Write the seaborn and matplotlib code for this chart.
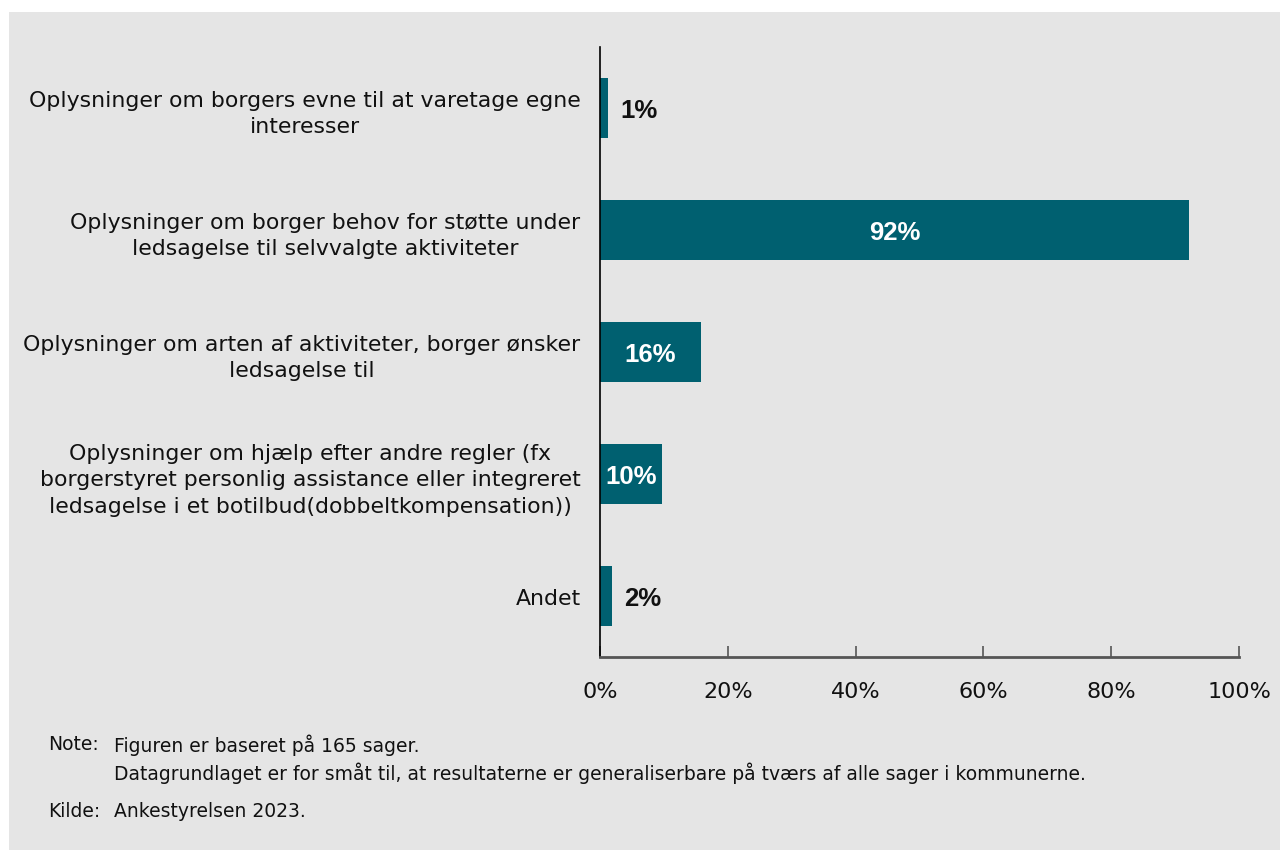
import matplotlib
matplotlib.use("Agg")
import matplotlib.pyplot as plt
import seaborn as sns
import pandas as pd
from matplotlib.patches import Rectangle
from matplotlib.ticker import FuncFormatter

categories = [
    "Oplysninger om borgers evne til at varetage egne\ninteresser",
    "Oplysninger om borger behov for støtte under\nledsagelse til selvvalgte aktiviteter",
    "Oplysninger om arten af aktiviteter, borger ønsker\nledsagelse til",
    "Oplysninger om hjælp efter andre regler (fx\nborgerstyret personlig assistance eller integreret\nledsagelse i et botilbud(dobbeltkompensation))",
    "Andet",
]
values = [1.25, 92.2, 15.8, 9.7, 1.9]
labels = ["1%", "92%", "16%", "10%", "2%"]
x_ticks = [0, 20, 40, 60, 80, 100]

note_lines = [
    ("Note:", "Figuren er baseret på 165 sager."),
    ("", "Datagrundlaget er for småt til, at resultaterne er generaliserbare på tværs af alle sager i kommunerne."),
    ("Kilde:", "Ankestyrelsen 2023."),
]

BG = "#e5e5e5"
BAR = "#006070"

sns.set_theme(style="white")
plt.rcParams["font.family"] = ["DejaVu Sans"]

W, H = 1284, 853
fig = plt.figure(figsize=(W / 100, H / 100), dpi=100, facecolor="white")
fig.patches.append(Rectangle((9 / W, 1 - 851 / H), (1280 - 9) / W, (851 - 13) / H,
                             transform=fig.transFigure, facecolor=BG, edgecolor="none", zorder=-10))

ax = fig.add_axes([600 / W, 1 - 658 / H, (1239 - 600) / W, (658 - 48) / H])
ax.set_facecolor(BG)

df = pd.DataFrame({"cat": categories, "val": values})
sns.barplot(data=df, y="cat", x="val", orient="h", color=BAR, saturation=1, width=0.49,
            linewidth=0, edgecolor="none", ax=ax)

ax.set_xlim(0, 100)
ax.set_ylim(4.5, -0.5)
ax.set_xlabel("")
ax.set_ylabel("")
ax.set_xticks(x_ticks)
ax.xaxis.set_major_formatter(FuncFormatter(lambda v, p: f"{int(v)}%"))
ax.tick_params(axis="x", direction="in", length=8, width=1.2, color="#555555",
               labelsize=16, labelcolor="#111111", pad=17, bottom=True)
ax.tick_params(axis="y", length=0, labelsize=15.8, labelcolor="#111111", pad=14)
for lab in ax.get_yticklabels():
    lab.set_multialignment("center")
    lab.set_linespacing(1.4)

for s in ["top", "right"]:
    ax.spines[s].set_visible(False)
ax.spines["left"].set_color("#000000")
ax.spines["left"].set_linewidth(1.2)
ax.spines["bottom"].set_color("#555555")
ax.spines["bottom"].set_linewidth(2)

for i, (v, lab) in enumerate(zip(values, labels)):
    if v < 5:
        ax.text(v + 1.9, i + 0.02, lab, ha="left", va="center", fontsize=18.5, fontweight="bold",
                color="#111111", family="Liberation Sans")
    else:
        ax.text(v / 2, i + 0.02, lab, ha="center", va="center", fontsize=18.5, fontweight="bold",
                color="white", family="Liberation Sans")

ys = [745, 773, 812]
for (head, body), y in zip(note_lines, ys):
    if head:
        fig.text(48 / W, 1 - y / H, head, ha="left", va="center", fontsize=13.5, color="#111111")
    fig.text(114 / W, 1 - y / H, body, ha="left", va="center", fontsize=13.5, color="#111111")

fig.savefig("out.png", dpi=100, facecolor="white")
